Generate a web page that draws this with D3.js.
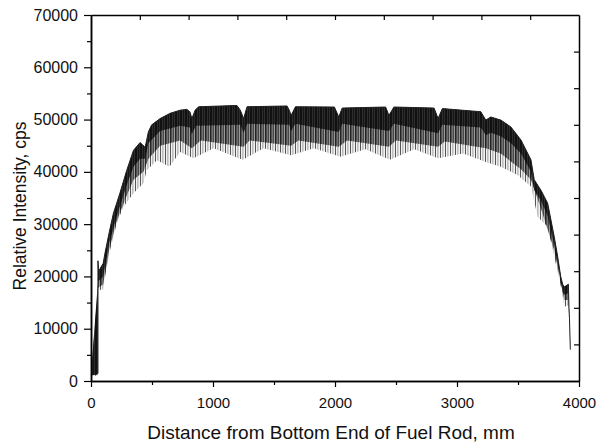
<!DOCTYPE html>
<html><head><meta charset="utf-8">
<script src="https://cdn.jsdelivr.net/npm/d3@7"></script>
<style>body{margin:0;background:#fff}svg{display:block}</style></head>
<body>
<svg id="c" width="598" height="443"></svg>
<script>
// Upper envelope of the scan signal [distance mm, cps]
const upperEnv = [[0,1200],[50,1300],[57,1500],[57,23000],[62,21000],[75,21500],[100,22500],[115,24500],[150,28500],[183,32000],[238,36000],[293,40300],[348,44100],[402,45600],[444,44700],[471,47700],[498,49000],[567,50200],[649,51200],[731,51800],[786,51950],[810,51500],[827,50200],[854,51800],[882,52450],[1196,52700],[1224,51800],[1251,50200],[1279,52450],[1607,52600],[1625,51800],[1640,50800],[1676,52450],[1995,52400],[2031,50500],[2059,52200],[2415,52400],[2442,50800],[2483,52400],[2812,52200],[2845,50200],[2880,52100],[3195,51500],[3236,49900],[3277,50500],[3359,49900],[3441,48600],[3524,46100],[3606,42300],[3633,38500],[3688,36500],[3743,34000],[3797,27600],[3825,23800],[3850,20000],[3866,18500],[3880,18000],[3913,18500],[3918,14000],[3922,12000],[3929,6000]];
// Lower edge of the darkest part of the signal band
const denseEnv = [[57,19000],[100,20000],[150,26500],[211,31500],[293,37500],[348,41000],[402,42500],[444,42500],[471,45500],[567,47800],[731,48800],[810,48500],[827,47200],[860,48800],[1224,49000],[1251,47500],[1280,49200],[1625,49000],[1640,47800],[1676,49200],[2031,47600],[2059,49200],[2442,47800],[2483,49200],[2845,47400],[2880,49000],[3195,48500],[3236,47000],[3277,47500],[3359,46800],[3441,45500],[3524,43500],[3606,40000],[3633,36500],[3688,34500],[3743,31500],[3797,26000],[3825,22500],[3866,17000],[3880,16500],[3913,16800],[3922,11500],[3929,6000]];
// Lower edge of the mid-dense part
const midEnv = [[57,17800],[100,18500],[150,25200],[211,30600],[293,35500],[348,38500],[430,40000],[471,42500],[567,45000],[731,46000],[827,44500],[900,46000],[1251,44800],[1300,46000],[1640,45000],[1700,46000],[2031,44800],[2100,46000],[2442,44800],[2500,46000],[2845,44800],[2900,45800],[3236,44500],[3359,43500],[3441,42000],[3524,40500],[3606,38500],[3688,33000],[3797,25000],[3880,15500],[3913,15500],[3922,11000],[3929,6000]];
// Lower envelope of the downward spikes
const lowerEnv = [[0,1000],[50,1000],[57,1200],[60,17400],[100,17500],[115,19900],[156,25000],[211,30100],[265,33300],[348,35900],[430,37800],[457,40300],[540,42200],[643,41000],[731,43800],[840,42600],[1005,44500],[1243,42300],[1415,44500],[1640,43200],[1826,44500],[2045,42900],[2250,44300],[2450,42300],[2650,44300],[2845,42600],[3050,43500],[3236,41900],[3359,41000],[3496,39400],[3606,37200],[3661,31400],[3743,29500],[3797,23800],[3852,18000],[3880,14200],[3913,14500],[3929,6000]];

const xMajor = [0,1000,2000,3000,4000];
const xMinor = [500,1500,2500,3500];
const yMajor = [0,10000,20000,30000,40000,50000,60000,70000];
const yMinor = [5000,15000,25000,35000,45000,55000,65000];
const topTicks = [400,800,1200,1600,2000,2400,2800,3200,3600];
const rightTicks = [7000,14000,21000,28000,35000,42000,49000,56000,63000];

const L = 91, R = 579, T = 15, B = 381;
const svg = d3.select("#c");
const x = d3.scaleLinear().domain([0,4000]).range([L,R]);
const y = d3.scaleLinear().domain([0,70000]).range([B,T]);
const FONT = "'Liberation Sans', Arial, sans-serif";

const defs = svg.append("defs");
function stripes(id, w, bg, stripesList){
  const p = defs.append("pattern").attr("id",id).attr("patternUnits","userSpaceOnUse")
    .attr("width",w).attr("height",12);
  p.append("rect").attr("width",w).attr("height",12).attr("fill",bg);
  stripesList.forEach(s => p.append("rect").attr("x",s[0]).attr("width",s[1]).attr("height",12).attr("fill",s[2]));
}
stripes("pLow", 5, "#f2f2f2", [[0,1,"#555"],[2.5,0.8,"#8a8a8a"]]);
stripes("pMid", 5, "#9a9a9a", [[0,1.6,"#222"],[2.6,1.2,"#333"]]);
stripes("pDense", 5, "#444", [[0,2,"#111"],[2.5,2,"#151515"]]);

const line = d3.line().x(d=>x(d[0])).y(d=>y(d[1]));
const poly = (a,b) => line(a.concat(b.slice().reverse())) + "Z";

svg.append("path").attr("d", poly(upperEnv, lowerEnv)).attr("fill","url(#pLow)");
svg.append("path").attr("d", poly(upperEnv, midEnv)).attr("fill","url(#pMid)");
svg.append("path").attr("d", poly(upperEnv, denseEnv)).attr("fill","url(#pDense)");
svg.append("path").attr("d", line(upperEnv)).attr("fill","none").attr("stroke","#222").attr("stroke-width",1);

function styleAxis(fs){
  return g => {
    g.select(".domain").attr("stroke","#000").attr("stroke-width",1.5);
    g.selectAll(".tick line").attr("stroke","#000").attr("stroke-width",1.2);
    g.selectAll("text").attr("font-family",FONT).attr("font-size",fs).attr("fill","#111");
  };
}
svg.append("g").attr("transform",`translate(0,${B})`)
  .call(d3.axisBottom(x).tickValues(xMinor).tickSize(4).tickSizeOuter(0).tickFormat(""))
  .call(styleAxis(15));
svg.append("g").attr("transform",`translate(0,${B})`)
  .call(d3.axisBottom(x).tickValues(xMajor).tickSize(6).tickPadding(10).tickSizeOuter(0).tickFormat(d3.format("d")))
  .call(styleAxis(15));
svg.append("g").attr("transform",`translate(${L},0)`)
  .call(d3.axisLeft(y).tickValues(yMinor).tickSize(4).tickSizeOuter(0).tickFormat(""))
  .call(styleAxis(16));
svg.append("g").attr("transform",`translate(${L},0)`)
  .call(d3.axisLeft(y).tickValues(yMajor).tickSize(7).tickPadding(6).tickSizeOuter(0).tickFormat(d3.format("d")))
  .call(styleAxis(16));
svg.append("g").attr("transform",`translate(0,${T})`)
  .call(d3.axisBottom(x).tickValues(topTicks).tickSize(5).tickSizeOuter(0).tickFormat(""))
  .call(styleAxis(15));
svg.append("g").attr("transform",`translate(${R},0)`)
  .call(d3.axisLeft(y).tickValues(rightTicks).tickSize(5).tickSizeOuter(0).tickFormat(""))
  .call(styleAxis(15));

svg.append("text").attr("x",331).attr("y",439).attr("text-anchor","middle")
  .attr("font-family",FONT).attr("font-size",19).attr("fill","#111")
  .text("Distance from Bottom End of Fuel Rod, mm");
svg.append("text").attr("transform",`translate(26,206) rotate(-90)`).attr("text-anchor","middle")
  .attr("font-family",FONT).attr("font-size",17.5).attr("fill","#111")
  .text("Relative Intensity, cps");
</script>
</body></html>
